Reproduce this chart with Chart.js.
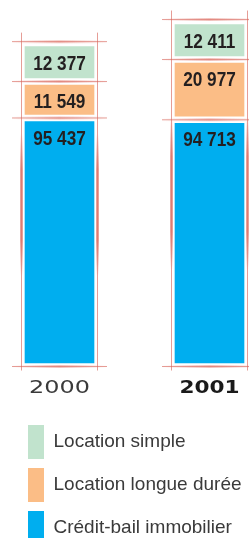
<!DOCTYPE html>
<html>
<head>
<meta charset="utf-8">
<script src="https://cdn.jsdelivr.net/npm/chart.js@4"></script>
<style>
  html, body { margin: 0; padding: 0; background: #fff; overflow: hidden; }
  #wrap { position: relative; width: 249px; height: 555px; }
</style>
</head>
<body>
<div id="wrap"><canvas id="chart"></canvas></div>
<script>
// Data (values in k€)
const years = ['2000', '2001'];
const creditBail = [95437, 94713];
const longueDuree = [11549, 20977];
const locationSimple = [12377, 12411];
const seriesNames = ['Crédit-bail immobilier', 'Location longue durée', 'Location simple'];
const seriesColors = ['#00aeef', '#fbbd86', '#c1e3cd'];

const series = [creditBail, longueDuree, locationSimple];
const GAP = 2850; // white space between stacked blocks, in value units

// floating bars [start, end], stacked bottom-up with a gap between blocks
const floats = series.map((vals, s) => vals.map((v, i) => {
    let start = 0;
    for (let k = 0; k < s; k++) start += series[k][i] + GAP;
    return [start, start + v];
}));

const fmt = v => String(v).replace(/\B(?=(\d{3})+(?!\d))/g, ' ');

// thin red "crop mark" lines around each column
const cropMarks = {
    id: 'cropMarks',
    beforeDatasetsDraw(chart) {
        const ctx = chart.ctx;
        const metas = series.map((_, s) => chart.getDatasetMeta(s));
        years.forEach((_, i) => {
            const segs = metas.map(m => m.data[i]);
            const left = segs[0].x - segs[0].width / 2;
            const right = segs[0].x + segs[0].width / 2;
            const ys = [segs[0].base + 3.5];
            for (let s = 1; s < segs.length; s++) ys.push((segs[s - 1].y + segs[s].base) / 2);
            ys.push(segs[segs.length - 1].y - 5);
            const top = ys[ys.length - 1] - 9;
            const bottom = ys[0] + 4;
            const vx = [left - 3.5, right + 3.5];

            ctx.save();
            // soft glow
            ys.forEach(y => {
                const g = ctx.createLinearGradient(left - 13, 0, right + 13, 0);
                g.addColorStop(0, 'rgba(226,120,108,0)');
                g.addColorStop(0.5, 'rgba(226,120,108,0.45)');
                g.addColorStop(1, 'rgba(226,120,108,0)');
                ctx.strokeStyle = g;
                ctx.lineWidth = 3;
                ctx.beginPath(); ctx.moveTo(left - 13, y); ctx.lineTo(right + 13, y); ctx.stroke();
            });
            vx.forEach(x => {
                const len = bottom - top;
                const g = ctx.createLinearGradient(0, top + len * 0.3, 0, top + len * 0.72);
                g.addColorStop(0, 'rgba(226,120,108,0)');
                g.addColorStop(0.25, 'rgba(226,120,108,0.7)');
                g.addColorStop(0.75, 'rgba(226,120,108,0.7)');
                g.addColorStop(1, 'rgba(226,120,108,0)');
                ctx.strokeStyle = g;
                ctx.lineWidth = 3;
                ctx.beginPath(); ctx.moveTo(x, top + len * 0.3); ctx.lineTo(x, top + len * 0.72); ctx.stroke();
            });
            // fine lines
            ctx.strokeStyle = 'rgba(216,104,94,0.65)';
            ctx.lineWidth = 1;
            ys.forEach(y => {
                ctx.beginPath(); ctx.moveTo(left - 13, y); ctx.lineTo(right + 13, y); ctx.stroke();
            });
            vx.forEach(x => {
                ctx.beginPath(); ctx.moveTo(x, top); ctx.lineTo(x, bottom); ctx.stroke();
            });
            ctx.restore();
        });
    }
};

// value labels near the top of each block (condensed look)
const valueLabels = {
    id: 'valueLabels',
    afterDatasetsDraw(chart) {
        const ctx = chart.ctx;
        series.forEach((vals, s) => {
            chart.getDatasetMeta(s).data.forEach((el, i) => {
                ctx.save();
                ctx.font = 'bold 20px "Liberation Sans", Arial, sans-serif';
                ctx.fillStyle = '#231f20';
                ctx.textAlign = 'center';
                ctx.textBaseline = 'alphabetic';
                ctx.translate(el.x, el.y + 23);
                ctx.scale(0.86, 1);
                ctx.fillText(fmt(vals[i]), 0, 0);
                ctx.restore();
            });
        });
    }
};

// year labels under the columns (extended look)
const yearLabels = {
    id: 'yearLabels',
    afterDraw(chart) {
        const ctx = chart.ctx;
        const x = chart.scales.x;
        years.forEach((y, i) => {
            const bold = i === years.length - 1;
            ctx.save();
            ctx.textAlign = 'center';
            ctx.textBaseline = 'alphabetic';
            ctx.font = (bold ? 'bold ' : '') + '18px "DejaVu Sans", sans-serif';
            ctx.fillStyle = bold ? '#1a1a1a' : '#3a3a3a';
            ctx.translate(x.getPixelForValue(i), 393);
            ctx.scale(bold ? 1.2 : 1.33, 1);
            ctx.fillText(y, 0, 0);
            ctx.restore();
        });
    }
};

new Chart(document.getElementById('chart'), {
    type: 'bar',
    data: {
        labels: years,
        datasets: series.map((_, s) => ({
            label: seriesNames[s],
            data: floats[s],
            backgroundColor: seriesColors[s],
            borderWidth: 0,
            barThickness: 69,
            grouped: false,
            clip: false
        }))
    },
    options: {
        responsive: true,
        maintainAspectRatio: false,
        animation: false,
        layout: { padding: { left: 19, right: 0, top: 0, bottom: 0 } },
        plugins: {
            tooltip: { enabled: false },
            legend: {
                position: 'bottom',
                align: 'start',
                reverse: true,
                labels: {
                    boxWidth: 16,
                    boxHeight: 34,
                    padding: 9,
                    color: '#3a3a3a',
                    font: { family: '"Liberation Sans", Arial, sans-serif', size: 19 }
                }
            }
        },
        scales: {
            x: {
                offset: false,
                grid: { display: false },
                border: { display: false },
                ticks: { display: false },
                afterFit: s => { s.height = 53; }
            },
            y: {
                min: 0,
                max: 143500,
                grid: { display: false },
                border: { display: false },
                ticks: { display: false },
                afterFit: s => { s.width = 40.5; }
            },
            yRight: {
                position: 'right',
                grid: { display: false },
                border: { display: false },
                ticks: { display: false },
                afterFit: s => { s.width = 39.5; }
            }
        }
    },
    plugins: [cropMarks, valueLabels, yearLabels]
});
</script>
</body>
</html>
